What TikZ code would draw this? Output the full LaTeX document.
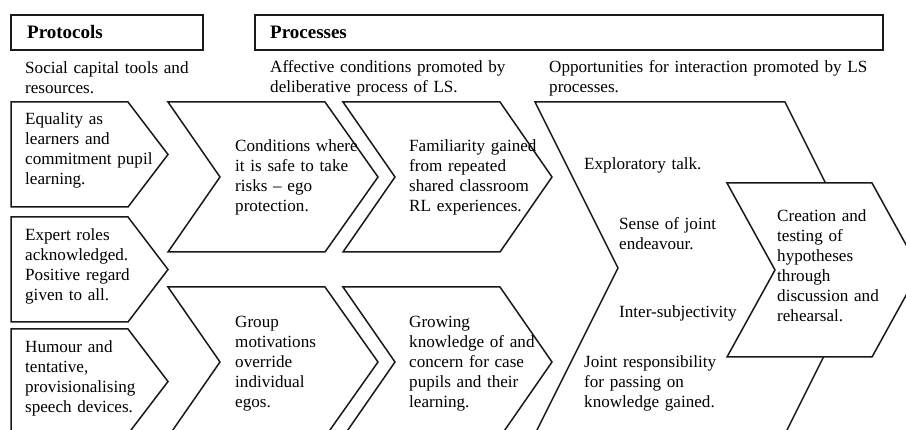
\documentclass[tikz,border=0pt]{standalone}
\usepackage{fontspec}
\setmainfont{Liberation Serif}
\begin{document}
\begin{tikzpicture}[x=1pt,y=-1pt,
  shape line/.style={draw=black!90, line width=1.5pt, line join=miter, fill=white},
  head/.style={anchor=base west, inner sep=0pt, font=\fontsize{19}{22}\selectfont\bfseries},
  txt/.style={anchor=base west, inner sep=0pt, align=left, text width=400pt,
              font=\fontsize{17.1}{20}\selectfont}]
\useasboundingbox (0,0) rectangle (906,430);
\clip (0,0) rectangle (906,430);

% header boxes
\draw[shape line] (11,15) rectangle (203,50);
\draw[shape line] (255,15) rectangle (883,50);
\node[head] (hprot) at (27,39) {Protocols};
\node[head] (hproc) at (270,39) {Processes};

% column captions
\node[txt] (cap1) at (25,74) {Social capital tools and\\resources.};
\node[txt] (cap2) at (270,73) {Affective conditions promoted by\\deliberative process of LS.};
\node[txt] (cap3) at (549,73) {Opportunities for interaction promoted by LS\\processes.};

% protocol pentagons
\draw[shape line] (11,102) -- (128,102) -- (168,154.5) -- (128,207) -- (11,207) -- cycle;
\draw[shape line] (11,217) -- (128,217) -- (168,269.5) -- (128,322) -- (11,322) -- cycle;
\draw[shape line] (11,329) -- (128,329) -- (168,381.5) -- (128,434) -- (11,434) -- cycle;

% process chevrons
\draw[shape line] (168,102) -- (325,102) -- (378,177) -- (325,252) -- (168,252) -- (220,177) -- cycle;
\draw[shape line] (168,287) -- (325,287) -- (378,362) -- (325,437) -- (168,437) -- (220,362) -- cycle;
\draw[shape line] (343,102) -- (500,102) -- (552,177) -- (500,252) -- (343,252) -- (395,177) -- cycle;
\draw[shape line] (343,287) -- (500,287) -- (552,362) -- (500,437) -- (343,437) -- (395,362) -- cycle;

% large interaction chevron and the outcome chevron on top of it
\draw[shape line] (535,102) -- (785,102) -- (868,268) -- (785,434) -- (535,434) -- (618,268) -- cycle;
\draw[shape line] (727,183) -- (872,183) -- (920,270) -- (872,357) -- (727,357) -- (775,270) -- cycle;

% protocol texts
\node[txt] (p1) at (25,125) {Equality as\\learners and\\commitment pupil\\learning.};
\node[txt] (p2) at (25,241) {Expert roles\\acknowledged.\\Positive regard\\given to all.};
\node[txt] (p3) at (25,353) {Humour and\\tentative,\\provisionalising\\speech devices.};

% affective condition texts
\node[txt] (a1) at (235,152) {Conditions where\\it is safe to take\\risks -- ego\\protection.};
\node[txt] (a2) at (235,328) {Group\\motivations\\override\\individual\\egos.};
\node[txt] (b1) at (409,152) {Familiarity gained\\from repeated\\shared classroom\\RL experiences.};
\node[txt] (b2) at (409,328) {Growing\\knowledge of and\\concern for case\\pupils and their\\learning.};

% interaction texts
\node[txt] (c1) at (584,170) {Exploratory talk.};
\node[txt] (c2) at (619,230) {Sense of joint\\endeavour.};
\node[txt] (c3) at (619,318) {Inter-subjectivity};
\node[txt] (c4) at (584,368) {Joint responsibility\\for passing on\\knowledge gained.};

% outcome text
\node[txt] (d1) at (777,222) {Creation and\\testing of\\hypotheses\\through\\discussion and\\rehearsal.};
\end{tikzpicture}
\end{document}
